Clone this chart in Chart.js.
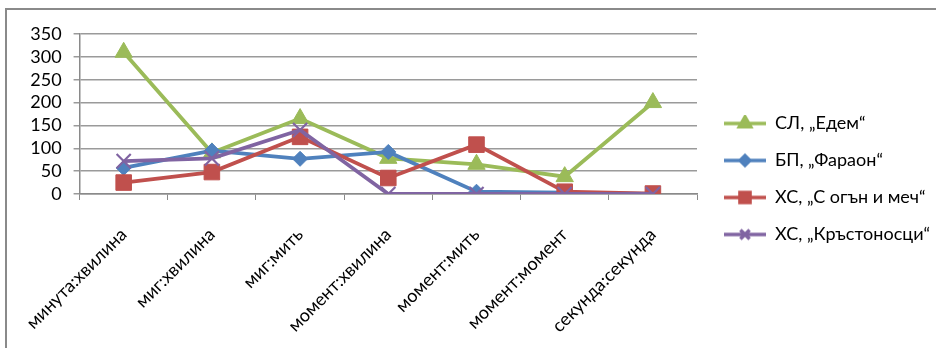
<!DOCTYPE html>
<html>
<head>
<meta charset="utf-8">
<script src="https://cdn.jsdelivr.net/npm/chart.js@4.4.1/dist/chart.umd.min.js"></script>
<style>
  html, body { margin: 0; padding: 0; background: #fff; }
  #wrap { position: relative; width: 936px; height: 348px; }
</style>
</head>
<body>
<div id="wrap"><canvas id="c" width="936" height="348"></canvas></div>
<script>
// Word-pair categories on the x axis
const categories = ['минута:хвилина', 'миг:хвилина', 'миг:мить', 'момент:хвилина', 'момент:мить', 'момент:момент', 'секунда:секунда'];

// Series (in legend order)
const seriesNames = ['СЛ, „Едем“', 'БП, „Фараон“', 'ХС, „С огън и меч“', 'ХС, „Кръстоносци“'];
const edem        = [310, 90, 165, 78, 65, 38, 200];
const faraon      = [57, 95, 77, 92, 5, 3, 0];
const ognIMech    = [25, 48, 125, 35, 108, 5, 1];
const krastonosci = [72, 78, 140, 0, 0, 0, 0];

// Y axis ticks
const yTicks = [0, 50, 100, 150, 200, 250, 300, 350];

const FONT = 'Lato';
const FSIZE = 18;
const colors  = ['#9BBB59', '#4F81BD', '#C0504D', '#8064A2'];
const markers = ['triangle', 'rectRot', 'rect', 'crossRot'];
const radii   = [10, 7.5, 11, 10];
const values  = [edem, faraon, ognIMech, krastonosci];

// Small legend swatch: line segment with the series marker in the middle
function swatch(color, style, r) {
  const cv = document.createElement('canvas');
  cv.width = 42; cv.height = 18;
  const g = cv.getContext('2d');
  g.strokeStyle = color; g.lineWidth = 3.5;
  g.beginPath(); g.moveTo(0, 9); g.lineTo(42, 9); g.stroke();
  g.fillStyle = color;
  g.strokeStyle = color;
  Chart.helpers.drawPoint(g, { pointStyle: style, radius: r * 0.65, borderWidth: 1.5, rotation: 0 }, 21, 9);
  g.fill();
  return cv;
}

const datasets = seriesNames.map((name, i) => ({
  label: name,
  data: values[i],
  borderColor: colors[i],
  backgroundColor: colors[i],
  borderWidth: 3.8,
  pointStyle: markers[i],
  pointRadius: radii[i],
  pointBorderWidth: markers[i] === 'crossRot' ? 2.2 : 1,
  pointBorderColor: colors[i],
  pointBackgroundColor: colors[i],
  tension: 0,
  order: seriesNames.length - i
}));

// Outer frame (top and left edges)
const framePlugin = {
  id: 'frame',
  beforeDraw(chart) {
    const ctx = chart.ctx;
    ctx.save();
    ctx.fillStyle = '#fff';
    ctx.fillRect(0, 0, chart.width, chart.height);
    ctx.strokeStyle = '#8a8a8a';
    ctx.lineWidth = 2;
    ctx.beginPath();
    ctx.moveTo(6, chart.height);
    ctx.lineTo(6, 9);
    ctx.lineTo(chart.width, 9);
    ctx.stroke();
    ctx.restore();
  }
};

// Nudge the legend block up and to the right of its default slot
const legendNudge = {
  id: 'legendNudge',
  afterLayout(chart) {
    const l = chart.legend;
    if (!l) return;
    l.top -= 15; l.bottom -= 15;
    l.left += 8; l.right += 8;
  }
};

new Chart(document.getElementById('c'), {
  type: 'line',
  data: { labels: categories, datasets },
  plugins: [framePlugin, legendNudge],
  options: {
    responsive: false,
    animation: false,
    layout: { padding: { left: 16, top: 34, right: 12, bottom: -6 } },
    plugins: {
      tooltip: { enabled: false },
      legend: {
        position: 'right',
        labels: {
          font: { family: FONT, size: FSIZE },
          color: '#000',
          usePointStyle: true,
          pointStyleWidth: 42,
          padding: 19,
          generateLabels(chart) {
            return chart.data.datasets.map((ds, i) => ({
              text: ds.label,
              pointStyle: swatch(colors[i], markers[i], radii[i]),
              fillStyle: colors[i],
              strokeStyle: colors[i],
              lineWidth: 0,
              hidden: false,
              datasetIndex: i
            }));
          }
        }
      }
    },
    scales: {
      x: {
        offset: true,
        grid: { display: true, drawOnChartArea: false, drawTicks: true, tickLength: 6, color: '#8a8a8a', offset: true },
        border: { display: true, color: '#8a8a8a', width: 1.5 },
        ticks: { font: { family: FONT, size: FSIZE }, color: '#000', maxRotation: 45, minRotation: 45, padding: 24, autoSkip: false }
      },
      y: {
        min: 0, max: 350,
        afterBuildTicks(axis) { axis.ticks = yTicks.map(v => ({ value: v })); },
        grid: { color: '#9a9a9a', lineWidth: 1.5, tickLength: 6 },
        border: { display: true, color: '#8a8a8a', width: 1.5 },
        ticks: { font: { family: FONT, size: FSIZE }, color: '#000', padding: 12, autoSkip: false }
      }
    }
  }
});
</script>
</body>
</html>
